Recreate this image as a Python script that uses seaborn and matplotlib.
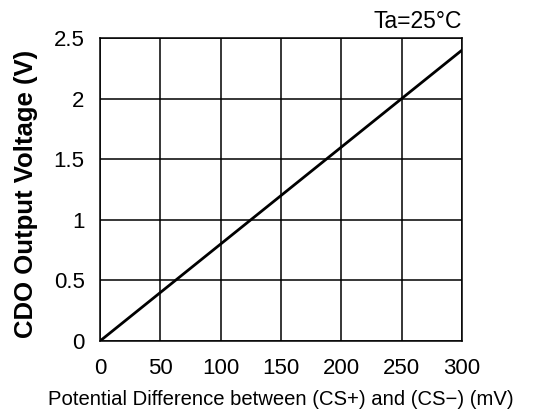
import matplotlib
matplotlib.use("Agg")
import matplotlib.pyplot as plt
import seaborn as sns
import pandas as pd

diff_mv = [0, 300]
cdo_v = [0, 2.4]
x_ticks = [0, 50, 100, 150, 200, 250, 300]
y_ticks = [0, 0.5, 1, 1.5, 2, 2.5]
y_tick_labels = ["0", "0.5", "1", "1.5", "2", "2.5"]

sns.set_theme(style="white")
plt.rcParams['font.family'] = ['Liberation Sans', 'DejaVu Sans']

fig = plt.figure(figsize=(5.47, 4.13), dpi=100)
ax = fig.add_axes([100 / 547, (413 - 341) / 413, 362 / 547, 303 / 413])

df = pd.DataFrame({"x": diff_mv, "y": cdo_v})
sns.lineplot(data=df, x="x", y="y", ax=ax, color="black", linewidth=2.0)

ax.set_xlim(0, 300)
ax.set_ylim(0, 2.5)
ax.set_xticks(x_ticks)
ax.set_yticks(y_ticks)
ax.set_yticklabels(y_tick_labels)
ax.grid(True, color="black", linewidth=1.1)
ax.set_axisbelow(True)
for s in ax.spines.values():
    s.set_color("black")
    s.set_linewidth(1.1)
    s.set_visible(True)
ax.tick_params(axis="both", length=0, labelsize=16, colors="black")
ax.tick_params(axis="y", pad=11)
ax.tick_params(axis="x", pad=12)

ax.set_xlabel("Potential Difference between (CS+) and (CS\u2212) (mV)", fontsize=14.6,
              color="black")
ax.xaxis.label.set_va("baseline")
ax.xaxis.set_label_coords(0.5, -64 / 303)
ax.set_ylabel("CDO Output Voltage (V)", fontsize=18.5, fontweight="bold", color="black")
ax.yaxis.set_label_coords(-0.172, 0.487)
ax.text(1.0, 1.015, "Ta=25\u00b0C", transform=ax.transAxes, ha="right", va="bottom",
        fontsize=16.5, color="black")

fig.savefig("out.png", dpi=100)
